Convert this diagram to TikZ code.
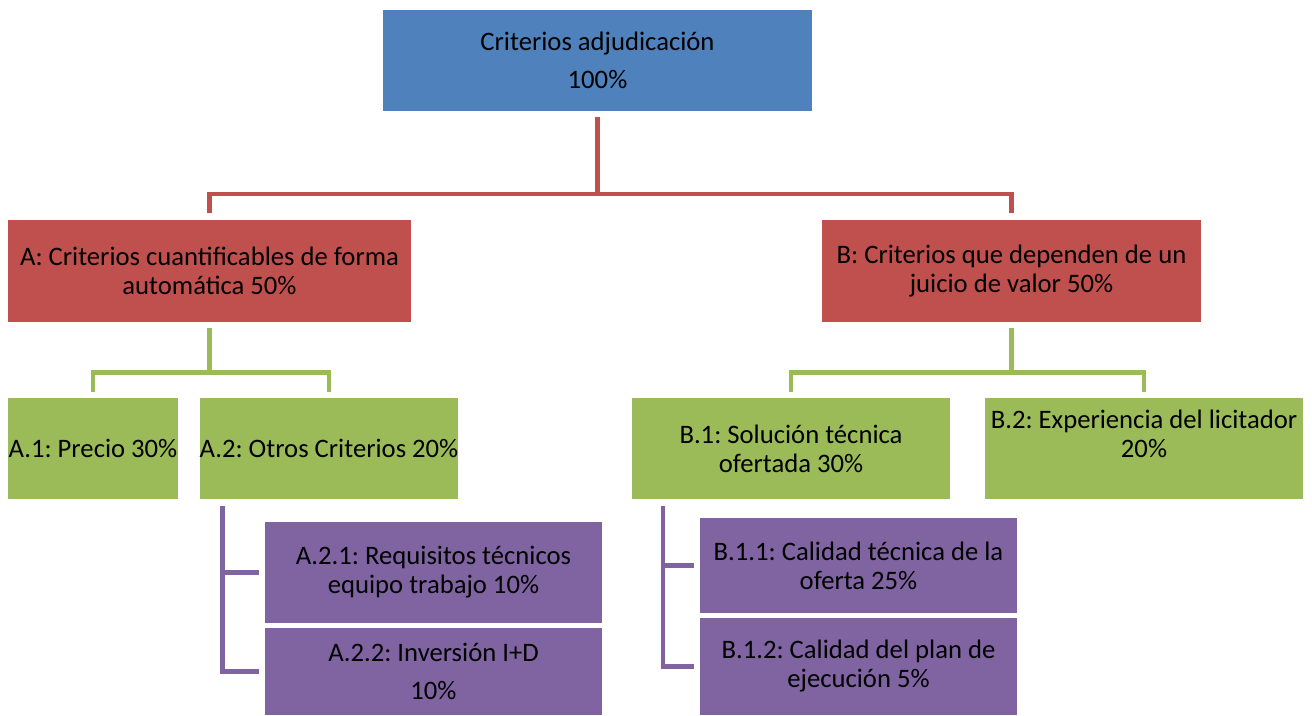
\documentclass[tikz,border=0pt]{standalone}
\usepackage{fontspec}
\setmainfont{Carlito}
\definecolor{cblue}{HTML}{4F81BD}
\definecolor{cred}{HTML}{C0504D}
\definecolor{cgreen}{HTML}{9BBB59}
\definecolor{cpurple}{HTML}{8064A2}
\begin{document}
\frenchspacing
\begin{tikzpicture}[x=0.75pt,y=-0.75pt,
  box/.style={draw=none, inner sep=0pt, align=center, text=black,
    font=\fontsize{20}{21.75}\selectfont},
  rl/.style={draw=cred, line width=3.6pt, line join=miter},
  gl/.style={draw=cgreen, line width=3.4pt, line join=miter},
  pl/.style={draw=cpurple, line width=3.2pt, line join=miter}]
\useasboundingbox (0,0) rectangle (1312,715);
\fill[white] (0,0) rectangle (1312,715);
% boxes
\node[box, fill=cblue, minimum width=429*0.75pt, minimum height=101*0.75pt] (top) at (597.5,60.5) {Criterios adjudicación\\[7pt]100\%};
\node[box, fill=cred, minimum width=403*0.75pt, minimum height=102*0.75pt] (A) at (209.5,271) {A: Criterios cuantificables de forma\\automática 50\%};
\node[box, fill=cred, minimum width=379*0.75pt, minimum height=102*0.75pt] (B) at (1011.5,271) {B: Criterios que dependen de un\\juicio de valor 50\%};
\node[box, fill=cgreen, minimum width=170*0.75pt, minimum height=101*0.75pt] (A1) at (93,448.5) {A.1: Precio 30\%};
\node[box, fill=cgreen, minimum width=258*0.75pt, minimum height=101*0.75pt] (A2) at (329,448.5) {A.2: Otros Criterios 20\%};
\node[box, fill=cgreen, minimum width=318*0.75pt, minimum height=101*0.75pt] (B1) at (791,448.5) {B.1: Solución técnica\\ofertada 30\%};
\node[box, fill=cgreen, minimum width=318*0.75pt, minimum height=101*0.75pt] (B2) at (1144,448.5) {B.2: Experiencia del licitador\\20\%\\\mbox{}};
\node[box, fill=cpurple, minimum width=337*0.75pt, minimum height=101*0.75pt] (A21) at (433.5,572.5) {A.2.1: Requisitos técnicos\\equipo trabajo 10\%};
\node[box, fill=cpurple, minimum width=337*0.75pt, minimum height=87*0.75pt] (A22) at (433.5,671.5) {A.2.2: Inversión I+D\\[7pt]10\%};
\node[box, fill=cpurple, minimum width=317*0.75pt, minimum height=95*0.75pt] (B11) at (858.5,565.5) {B.1.1: Calidad técnica de la\\oferta 25\%};
\node[box, fill=cpurple, minimum width=317*0.75pt, minimum height=97*0.75pt] (B12) at (858.5,666.5) {B.1.2: Calidad del plan de\\ejecución 5\%};
% red connectors
\draw[rl, shorten <=4.5pt, shorten >=5pt] (top.south) -- (top.south |- 0,194) -| (A.north);
\draw[rl, shorten <=4.5pt, shorten >=5pt] (top.south) -- (top.south |- 0,194) -| (B.north);
% green connectors
\draw[gl, shorten <=4.5pt, shorten >=4.5pt] (A.south) -- (A.south |- 0,372.5) -| (A1.north);
\draw[gl, shorten <=4.5pt, shorten >=4.5pt] (A.south) -- (A.south |- 0,372.5) -| (A2.north);
\draw[gl, shorten <=4.5pt, shorten >=4.5pt] (B.south) -- (B.south |- 0,372.5) -| (B1.north);
\draw[gl, shorten <=4.5pt, shorten >=4.5pt] (B.south) -- (B.south |- 0,372.5) -| (B2.north);
% purple connectors
\draw[pl, shorten <=5pt, shorten >=4.5pt] ([xshift=17.25pt]A2.south west) |- (A21.west);
\draw[pl, shorten <=5pt, shorten >=4.5pt] ([xshift=17.25pt]A2.south west) |- (A22.west);
\draw[pl, shorten <=5pt, shorten >=4.5pt] ([xshift=23.25pt]B1.south west) |- (B11.west);
\draw[pl, shorten <=5pt, shorten >=4.5pt] ([xshift=23.25pt]B1.south west) |- (B12.west);
\end{tikzpicture}
\end{document}
